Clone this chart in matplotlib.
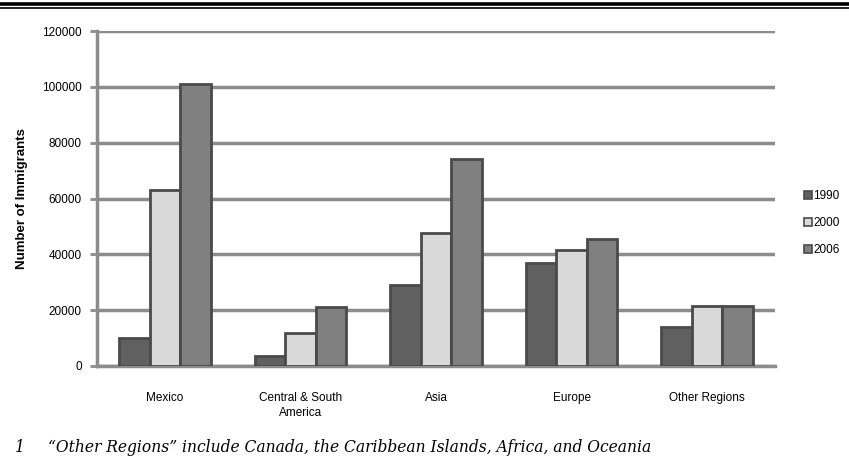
import numpy as np
import matplotlib.pyplot as plt
from matplotlib.lines import Line2D

# data
regions = ['Mexico', 'Central & South\nAmerica', 'Asia', 'Europe', 'Other Regions']
years = ['1990', '2000', '2006']
vals_1990 = [10000, 3500, 29000, 37000, 14000]
vals_2000 = [63000, 12000, 47500, 41500, 21500]
vals_2006 = [101000, 21000, 74000, 45500, 21500]

plt.rcParams['font.family'] = ['Liberation Sans', 'DejaVu Sans']

fig = plt.figure(figsize=(8.49, 4.70), dpi=100)
W, H = 849, 470
ax = fig.add_axes([97 / W, 1 - 366 / H, (775 - 97) / W, (366 - 31) / H])

fills = ['#606060', '#d9d9d9', '#808080']
edge = '#4a4a4a'
grid_c = '#8c8c8c'

x = np.arange(len(regions))
bw = 0.225
for i, (vals, col) in enumerate(zip([vals_1990, vals_2000, vals_2006], fills)):
    ax.bar(x + (i - 1) * bw, vals, width=bw, color=col, edgecolor=edge,
           linewidth=2, zorder=3)

ax.set_xlim(-0.5, len(regions) - 0.5)
ax.set_ylim(0, 120000)
ax.set_yticks(np.arange(0, 120001, 20000))
ax.yaxis.grid(True, color=grid_c, linewidth=2.5, zorder=0)
ax.set_axisbelow(True)

for s in ['top', 'right']:
    ax.spines[s].set_visible(False)
ax.spines['left'].set_color(grid_c)
ax.spines['left'].set_linewidth(2.5)
ax.spines['bottom'].set_color(grid_c)
ax.spines['bottom'].set_linewidth(2.5)

ax.tick_params(axis='y', length=5, width=2, color=grid_c, labelsize=8.5, pad=6)
ax.tick_params(axis='x', length=0, labelsize=8.5, pad=19)
ax.set_xticks(x)
ax.set_xticklabels(regions, linespacing=1.25)
ax.set_ylabel('Number of Immigrants', fontsize=9.5, fontweight='bold', labelpad=10)

handles = [Line2D([], [], marker='s', linestyle='none', markersize=6,
                  markerfacecolor=c, markeredgecolor=edge, markeredgewidth=1.2)
           for c in fills]
fig.legend(handles, years, loc='center left', bbox_to_anchor=(797 / W, 1 - 223 / H),
           frameon=False, fontsize=8.5, handletextpad=0.0, labelspacing=1.26,
           handlelength=1.0, borderaxespad=0)

# double rule at the top
fig.add_artist(Line2D([0, 1], [1 - 3.5 / H, 1 - 3.5 / H], color='black', linewidth=2.6))
fig.add_artist(Line2D([0, 1], [1 - 7.5 / H, 1 - 7.5 / H], color='black', linewidth=1.2))

# footnote
fig.text(15 / W, 1 - 448 / H, '1', fontsize=11.2, style='italic',
         family='DejaVu Serif', va='center')
fig.text(48 / W, 1 - 448 / H,
         '\u201cOther Regions\u201d include Canada, the Caribbean Islands, Africa, and Oceania',
         fontsize=11.2, style='italic', family='DejaVu Serif', va='center')

fig.savefig('out.png', dpi=100)
